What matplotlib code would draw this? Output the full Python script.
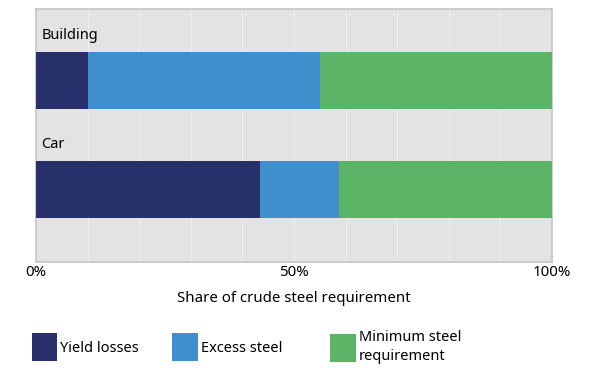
import matplotlib.pyplot as plt

plt.rcParams['font.family'] = ['Noto Sans', 'DejaVu Sans']

categories = ['Car', 'Building']
yield_losses = [43.5, 10]
excess_steel = [15.2, 45]
minimum_steel = [41.3, 45]
series_names = ['Yield losses', 'Excess steel', 'Minimum steel\nrequirement']
colors = ['#27306b', '#3f8fcd', '#5cb567']
xticks = [0, 50, 100]
xtick_labels = ['0%', '50%', '100%']

fig = plt.figure(figsize=(5.9, 3.9), dpi=100)
ax = fig.add_axes([0.061, 0.328, 0.8746, 0.649])
ax.set_facecolor('#e4e2e3')

ypos = list(range(len(categories)))
left = [0] * len(categories)
bars = []
for vals, col in zip([yield_losses, excess_steel, minimum_steel], colors):
    b = ax.barh(ypos, vals, left=left, height=0.525, color=col, zorder=3)
    bars.append(b)
    left = [l + v for l, v in zip(left, vals)]

# category labels above the bars
for y, name in zip(ypos, categories):
    ax.text(1, y + 0.41, name, fontsize=10.5, va='center', ha='left', zorder=4)

ax.set_xlim(0, 100)
ax.set_ylim(-0.673, 1.659)
ax.set_yticks([])
ax.set_xticks(range(0, 101, 10), minor=True)
ax.set_xticks(xticks)
ax.set_xticklabels(xtick_labels, fontsize=10.8)
ax.tick_params(axis='x', which='both', length=0, pad=2)
ax.grid(axis='x', which='both', color='#efeeee', linewidth=0.8, zorder=1)
for s in ax.spines.values():
    s.set_color('#c4c4c4')
    s.set_linewidth(1.2)
ax.set_xlabel('Share of crude steel requirement', fontsize=10.8, labelpad=8)

# one legend per entry so the spacing matches
leg_x = [0.0415, 0.2795, 0.5475]
for b, name, x in zip(bars, series_names, leg_x):
    leg = fig.legend([b], [name], loc='center left', bbox_to_anchor=(x, 0.11),
                     frameon=False, fontsize=10.5, handlelength=1.75,
                     handleheight=2.6, handletextpad=0.2, borderpad=0)
    for t in leg.get_texts():
        t.set_linespacing(1.35)

fig.savefig('out.png', dpi=100)
